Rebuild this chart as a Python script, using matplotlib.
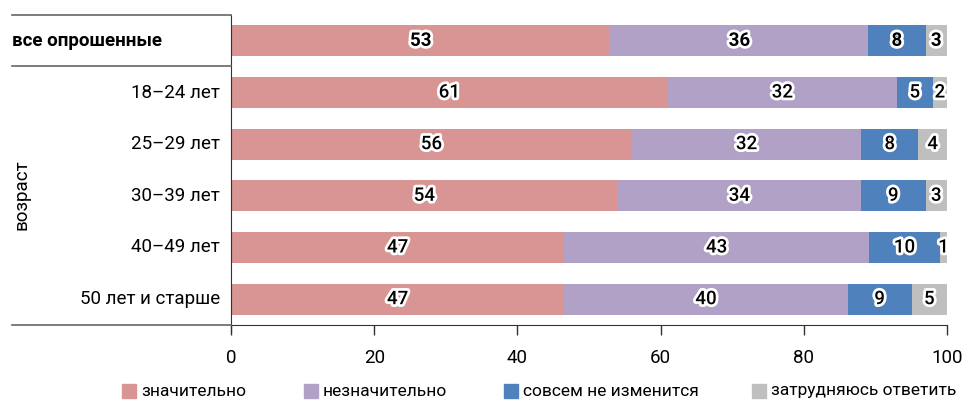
import numpy as np
import matplotlib.pyplot as plt
import matplotlib.patheffects as pe
from matplotlib.patches import Rectangle

plt.rcParams['font.family'] = ['Roboto', 'DejaVu Sans']

groups = ['все опрошенные', '18–24 лет', '25–29 лет', '30–39 лет', '40–49 лет', '50 лет и старше']
series_names = ['значительно', 'незначительно', 'совсем не изменится', 'затрудняюсь ответить']
significant = [53, 61, 56, 54, 47, 47]
insignificant = [36, 32, 32, 34, 43, 40]
no_change = [8, 5, 8, 9, 10, 9]
hard_to_say = [3, 2, 4, 3, 1, 5]
colors = ['#D99594', '#B2A1C7', '#4F81BD', '#BFBFBF']

values = np.array([significant, insignificant, no_change, hard_to_say], dtype=float)
shares = values / values.sum(axis=0) * 100

W, H = 966, 401
fig = plt.figure(figsize=(W / 100, H / 100), dpi=100)
ax = fig.add_axes([231 / W, 1 - 325 / H, 716 / W, 310 / H])

y = np.arange(len(groups))
left = np.zeros(len(groups))
for i in range(4):
    ax.barh(y, shares[i], left=left, height=0.6, color=colors[i], label=series_names[i])
    for j in range(len(groups)):
        ax.text(left[j] + shares[i][j] / 2, y[j], str(int(values[i][j])),
                ha='center', va='center', fontsize=13.5,
                fontweight='bold' if j == 0 else 'medium', color='black',
                path_effects=[pe.withStroke(linewidth=4, foreground='white')])
    left += shares[i]

ax.set_xlim(0, 100)
ax.set_ylim(len(groups) - 0.5, -0.5)
ax.set_xticks(np.arange(0, 101, 20))
ax.tick_params(axis='x', labelsize=13.5, length=7, width=1, colors='#333333', labelcolor='black', pad=10)
ax.set_yticks([])
for s in ['top', 'right']:
    ax.spines[s].set_visible(False)
ax.spines['left'].set_color('#333333')
ax.spines['bottom'].set_color('#333333')
ax.spines['left'].set_bounds(len(groups) - 0.5 + 0.13, -0.5)

# row labels in figure coords
for j, g in enumerate(groups):
    yy = 1 - (15 + (j + 0.5) * 310 / 6) / H
    if j == 0:
        fig.text(12 / W, yy, g, ha='left', va='center', fontsize=13.5, fontweight='bold')
    else:
        fig.text(220 / W, yy, g, ha='right', va='center', fontsize=13.5)

fig.text(22 / W, 1 - 195 / H, 'возраст', rotation=90, ha='center', va='center', fontsize=13.5)

# separator lines
for yy, x0, x1 in [(15, 12, 231), (66, 12, 231), (325, 12, 231)]:
    fig.add_artist(plt.Line2D([x0 / W, x1 / W], [1 - yy / H] * 2, color='#666666', lw=1.2))

# legend row
legend_x = [122, 304, 504, 752]
for x0, c, name in zip(legend_x, colors, series_names):
    fig.add_artist(Rectangle((x0 / W, 1 - 398 / H), 14 / W, 14 / H, color=c, transform=fig.transFigure))
    fig.text((x0 + 19) / W, 1 - 391 / H, name, ha='left', va='center', fontsize=12.5)

fig.savefig('out.png', dpi=100)
